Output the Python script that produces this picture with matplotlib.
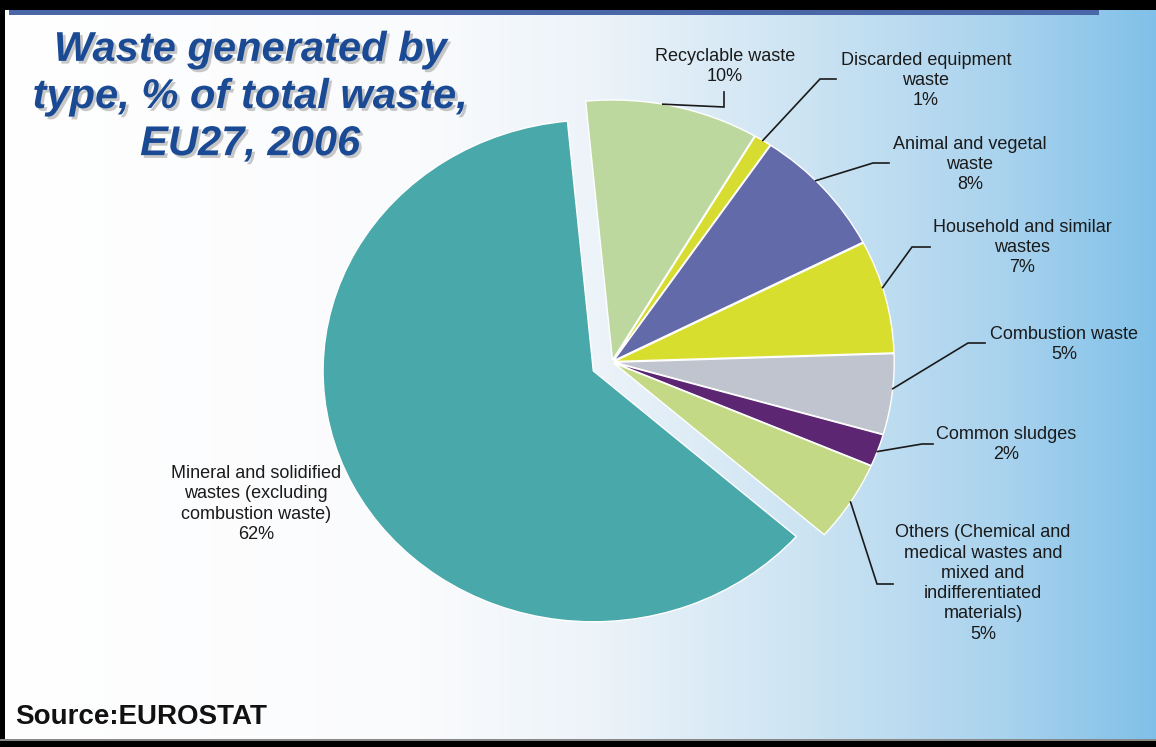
import numpy as np
import matplotlib
matplotlib.use("Agg")
import matplotlib.pyplot as plt
import matplotlib.patheffects as pe
from matplotlib.patches import Rectangle

# ---- data -------------------------------------------------------------
categories = [
    "Recyclable waste",
    "Discarded equipment\nwaste",
    "Animal and vegetal\nwaste",
    "Household and similar\nwastes",
    "Combustion waste",
    "Common sludges",
    "Others (Chemical and\nmedical wastes and\nmixed and\nindifferentiated\nmaterials)",
    "Mineral and solidified\nwastes (excluding\ncombustion waste)",
]
shares = [10, 1, 8, 7, 5, 2, 5, 62]

title = "Waste generated by\ntype, % of total waste,\nEU27, 2006"
source = "Source:EUROSTAT"

# ---- style ------------------------------------------------------------
slice_colors = ["#BDD89E", "#D6DC30", "#636AAA", "#D8DE2E",
                "#C0C4CE", "#5C2672", "#C3D985", "#48A8AA"]
explode = [0.008] * 7 + [0.075]

# label anchor (centre x, first line y) in pixels from the top-left corner
label_pos = [(725, 55), (926, 58), (970, 142), (1022, 225),
             (1064, 333), (1006, 433), (983, 527), (256, 470)]
# leader line elbows: (bend point, end point) per labelled slice
leaders = [((724, 107), (724, 92)), ((820, 79), (836, 79)),
           ((873, 163), (889, 163)), ((912, 247), (930, 247)),
           ((968, 343), (985, 343)), ((922, 444), (933, 444)),
           ((877, 584), (893, 584)), None]
# where along each slice (0 = leading edge, 1 = trailing edge) the leader starts
leader_frac = [0.44, 0.5, 0.42, 0.42, 0.43, 0.54, 0.5, 0.5]

W, H = 1156, 747
fig = plt.figure(figsize=(W / 100, H / 100), dpi=100)

# ---- background: white to sky-blue horizontal gradient + frame --------
bg = fig.add_axes([0, 0, 1, 1])
bg.axis("off")
xs = np.arange(W)
stops_x = [0, 420, 600, 800, 1000, W]
stops_rgb = np.array([[255, 255, 255], [250, 251, 253], [236, 243, 249],
                      [205, 228, 243], [170, 211, 238], [128, 192, 232]]) / 255
grad = np.stack([np.interp(xs, stops_x, stops_rgb[:, k]) for k in range(3)], axis=-1)
bg.imshow(grad[None, :, :], extent=(0, W, H, 0), aspect="auto",
          interpolation="bilinear")
bg.set_xlim(0, W)
bg.set_ylim(H, 0)
bg.add_patch(Rectangle((0, 0), W, 10, color="black", lw=0))
bg.add_patch(Rectangle((9, 10), 1090, 5, color="#4A68A8", lw=0))
bg.add_patch(Rectangle((0, 0), 5, H, color="black", lw=0))
bg.add_patch(Rectangle((0, H - 8), W, 2, color="#888888", lw=0))
bg.add_patch(Rectangle((0, H - 6), W, 6, color="black", lw=0))

# ---- pie (slightly wider than tall) -----------------------------------
cx, cy = 612, 362
rx, ry = 280, 260
ax = fig.add_axes([(cx - 1.25 * rx) / W, (H - cy - 1.25 * ry) / H,
                   2.5 * rx / W, 2.5 * ry / H])
wedges, _ = ax.pie(shares, colors=slice_colors, startangle=95.5,
                   counterclock=False, explode=explode,
                   wedgeprops=dict(edgecolor="white", linewidth=1.0))
ax.set_aspect("auto")
ax.set_xlim(-1.25, 1.25)
ax.set_ylim(-1.25, 1.25)
ax.axis("off")
wedges[-1].set_radius(0.965)

# ---- overlay for text and leader lines (pixel coordinates) ------------
ov = fig.add_axes([0, 0, 1, 1], zorder=5)
ov.set_xlim(0, W)
ov.set_ylim(H, 0)
ov.axis("off")

to_ov = ov.transData.inverted()
for w, lead, f in zip(wedges, leaders, leader_frac):
    if lead is None:
        continue
    # slices run clockwise, so the larger angle is the leading edge
    th = np.deg2rad(w.theta2 - f * (w.theta2 - w.theta1))
    p = np.array(w.center) + w.r * np.array([np.cos(th), np.sin(th)])
    ax_pt = to_ov.transform(ax.transData.transform(p))
    (bx, by), (ex, ey) = lead
    ov.plot([ax_pt[0], bx, ex], [ax_pt[1], by, ey], color="#1a1a1a", lw=1.2,
            solid_joinstyle="miter")

line_h = 22.6
for cat, val, (lx, ly) in zip(categories, shares, label_pos):
    txt = f"{cat}\n{val}%"
    n = txt.count("\n") + 1
    ov.text(lx, ly + (n - 1) * line_h / 2, txt, ha="center", va="center",
            multialignment="center", fontsize=13, family="Liberation Sans",
            color="#1a1a1a", linespacing=1.25)

ov.text(250, 97, title, ha="center", va="center", multialignment="center",
        fontsize=30, fontweight="bold", fontstyle="italic",
        family="Liberation Sans", color="#1B4A95", linespacing=1.23,
        path_effects=[pe.withSimplePatchShadow(offset=(2, -2),
                                               shadow_rgbFace="#777777",
                                               alpha=0.4)])

ov.text(15, 717, source, ha="left", va="center", fontsize=20,
        fontweight="bold", family="Liberation Sans", color="#111111")

fig.savefig("out.png", dpi=100)
